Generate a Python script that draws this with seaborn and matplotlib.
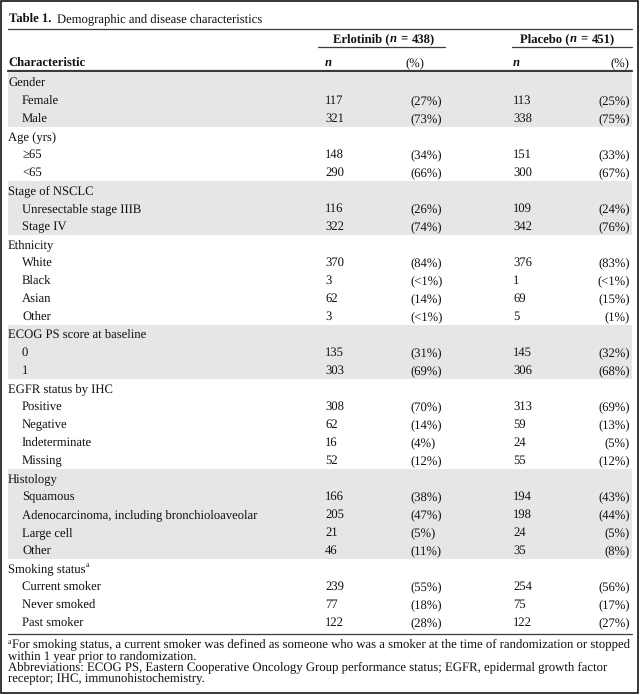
import matplotlib
matplotlib.use("Agg")
import matplotlib.pyplot as plt
import seaborn as sns
from matplotlib.patches import Rectangle

# table content
groups = ["Gender", "Age (yrs)", "Stage of NSCLC", "Ethnicity",
          "ECOG PS score at baseline", "EGFR status by IHC", "Histology",
          "Smoking status"]
levels = [
    ["Female", "Male"],
    ["\u226565", "<65"],
    ["Unresectable stage IIIB", "Stage IV"],
    ["White", "Black", "Asian", "Other"],
    ["0", "1"],
    ["Positive", "Negative", "Indeterminate", "Missing"],
    ["Squamous", "Adenocarcinoma, including bronchioloaveolar", "Large cell", "Other"],
    ["Current smoker", "Never smoked", "Past smoker"],
]
erlotinib_n = [[117, 321], [148, 290], [116, 322], [370, 3, 62, 3], [135, 303],
               [308, 62, 16, 52], [166, 205, 21, 46], [239, 77, 122]]
erlotinib_pct = [["27", "73"], ["34", "66"], ["26", "74"], ["84", "<1", "14", "<1"],
                 ["31", "69"], ["70", "14", "4", "12"], ["38", "47", "5", "11"],
                 ["55", "18", "28"]]
placebo_n = [[113, 338], [151, 300], [109, 342], [376, 1, 69, 5], [145, 306],
             [313, 59, 24, 55], [194, 198, 24, 35], [254, 75, 122]]
placebo_pct = [["25", "75"], ["33", "67"], ["24", "76"], ["83", "<1", "15", "1"],
               ["32", "68"], ["69", "13", "5", "12"], ["43", "44", "5", "8"],
               ["56", "17", "27"]]
arm_n = [438, 451]

title = "Demographic and disease characteristics"
footnote_a = ("For smoking status, a current smoker was defined as someone who was a smoker "
              "at the time of randomization or stopped")
footnote_lines = [
    "within 1 year prior to randomization.",
    "Abbreviations: ECOG PS, Eastern Cooperative Oncology Group performance status; EGFR, epidermal growth factor",
    "receptor; IHC, immunohistochemistry.",
]

sns.set_theme(style="white")
plt.rcParams["font.family"] = ["Liberation Serif", "DejaVu Serif"]
plt.rcParams["text.hinting"] = "no_hinting"

W, H = 640, 695
fig = plt.figure(figsize=(W / 100, H / 100), dpi=100)
ax = fig.add_axes([0, 0, 1, 1])
ax.set_xlim(0, W)
ax.set_ylim(H, 0)
ax.axis("off")
renderer = fig.canvas.get_renderer()

TXT = "#111111"
RULE = "#3a3a3a"
BAND = "#e6e6e6"
FS = 9.1
FS_NOTE = 9.2


def runs(x, y, pieces, size=FS):
    # draw text pieces one after another: (text, weight, style, gap_before)
    for s, weight, style, gap in pieces:
        x += gap
        t = ax.text(x, y, s, fontsize=size, fontweight=weight, fontstyle=style,
                    color=TXT, va="baseline", ha="left")
        x += t.get_window_extent(renderer).width
    return x


# frame around everything
ax.add_patch(Rectangle((0.75, 0.75), W - 2.8, H - 2.8, fill=False, ec="black", lw=1.1))

# title
runs(9, 22, [("Table 1.", "bold", "normal", 0), (title, "normal", "normal", 6)])
ax.plot([8, 632], [29, 29], color=RULE, lw=0.9)

# arm headers
runs(333, 42, [("Erlotinib (", "bold", "normal", 0), ("n", "bold", "italic", 0),
               ("=", "bold", "normal", 4), ("%d)" % arm_n[0], "bold", "normal", 4)])
runs(520, 42, [("Placebo (", "bold", "normal", 0), ("n", "bold", "italic", 0),
               ("=", "bold", "normal", 4), ("%d)" % arm_n[1], "bold", "normal", 4)])
ax.plot([318, 445], [47, 47], color=RULE, lw=0.9)
ax.plot([512, 632], [47, 47], color=RULE, lw=0.9)

# column headers
ax.text(8, 66, "Characteristic", fontsize=FS, fontweight="bold", color=TXT, va="baseline")
for xn, xp, ha in [(325, 405, "left"), (513, 629, "right")]:
    ax.text(xn, 66, "n", fontsize=FS, fontweight="bold", fontstyle="italic", color=TXT, va="baseline")
    ax.text(xp, 66, "(%)", fontsize=FS, color=TXT, va="baseline", ha=ha)
ax.plot([8, 632], [70.5, 70.5], color=RULE, lw=1.6)

# body rows
y0, pitch = 82, 18.0
row = 0
for g, name in enumerate(groups):
    n_rows = 1 + len(levels[g])
    top = y0 + pitch * (row - 0.5)
    bottom = y0 + pitch * (row + n_rows - 0.5)
    if g % 2 == 0:
        ax.axhspan(top, bottom, xmin=8 / W, xmax=632 / W, color=BAND, lw=0, zorder=0)
    yb = y0 + pitch * row + 4
    if name == "Smoking status":
        t = ax.text(8, yb, name, fontsize=FS, color=TXT, va="baseline")
        x_end = t.get_window_extent(renderer).x1
        ax.text(x_end + 0.5, yb - 5, "a", fontsize=5.8, color=TXT, va="baseline")
    else:
        ax.text(8, yb, name, fontsize=FS, color=TXT, va="baseline")
    row += 1
    for k, lab in enumerate(levels[g]):
        yb = y0 + pitch * row + 4
        ax.text(22, yb, lab, fontsize=FS, color=TXT, va="baseline")
        ax.text(325, yb, str(erlotinib_n[g][k]), fontsize=FS, color=TXT, va="baseline")
        ax.text(410, yb, "(%s%%)" % erlotinib_pct[g][k], fontsize=FS, color=TXT, va="baseline")
        ax.text(513, yb, str(placebo_n[g][k]), fontsize=FS, color=TXT, va="baseline")
        ax.text(630, yb, "(%s%%)" % placebo_pct[g][k], fontsize=FS, color=TXT,
                va="baseline", ha="right")
        row += 1

bottom_rule = y0 + pitch * (row - 1) + 12
ax.plot([8, 632], [bottom_rule, bottom_rule], color=RULE, lw=0.9)

# footnotes
fy = bottom_rule + 13.5
ax.text(8, fy - 4, "a", fontsize=5.8, color=TXT, va="baseline")
ax.text(12.5, fy, footnote_a, fontsize=FS_NOTE, color=TXT, va="baseline")
for i, line in enumerate(footnote_lines):
    ax.text(8, fy + 11.3 * (i + 1), line, fontsize=FS_NOTE, color=TXT, va="baseline")

fig.savefig("out.png", dpi=100)
